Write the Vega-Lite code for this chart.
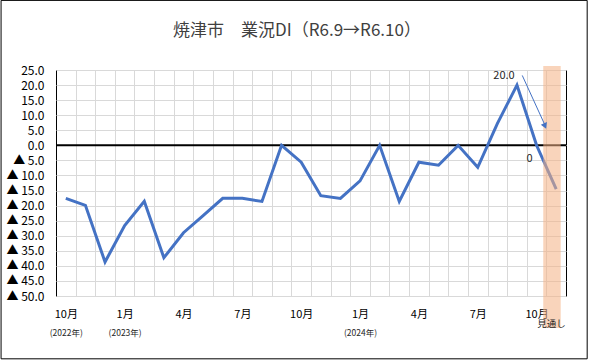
{
  "$schema": "https://vega.github.io/schema/vega-lite/v6.json",
  "autosize": {"type": "none"},
  "padding": {"left": 56, "top": 70, "right": 23, "bottom": 65},
  "width": 510,
  "height": 226,
  "background": "white",
  "config": {
    "font": "Noto Sans CJK JP",
    "view": {"stroke": "black", "strokeWidth": 1}
  },
  "title": {
    "text": "焼津市　業況DI（R6.9→R6.10）",
    "fontSize": 17,
    "fontWeight": "normal",
    "color": "#404040",
    "anchor": "middle",
    "dx": -14,
    "offset": -40
  },
  "datasets": {
    "di": [
      {"i": 0, "v": -17.6},
      {"i": 1, "v": -19.9},
      {"i": 2, "v": -38.7},
      {"i": 3, "v": -26.6},
      {"i": 4, "v": -18.6},
      {"i": 5, "v": -37.3},
      {"i": 6, "v": -29.0},
      {"i": 7, "v": -23.3},
      {"i": 8, "v": -17.6},
      {"i": 9, "v": -17.6},
      {"i": 10, "v": -18.6},
      {"i": 11, "v": 0},
      {"i": 12, "v": -5.6},
      {"i": 13, "v": -16.7},
      {"i": 14, "v": -17.6},
      {"i": 15, "v": -11.8},
      {"i": 16, "v": 0},
      {"i": 17, "v": -18.6},
      {"i": 18, "v": -5.6},
      {"i": 19, "v": -6.6},
      {"i": 20, "v": 0},
      {"i": 21, "v": -7.3},
      {"i": 22, "v": 7.2},
      {"i": 23, "v": 20},
      {"i": 24, "v": 0},
      {"i": 25, "v": -14.5}
    ]
  },
  "resolve": {"axis": {"x": "independent", "y": "independent"}},
  "layer": [
    {
      "data": {"values": [{"z": 0}]},
      "mark": {"type": "rule", "color": "black", "strokeWidth": 2},
      "encoding": {
        "y": {
          "field": "z", "type": "quantitative",
          "scale": {"domain": [-50, 25], "nice": false, "zero": false},
          "axis": {
            "orient": "left",
            "values": [-50, -45, -40, -35, -30, -25, -20, -15, -10, -5, 0, 5, 10, 15, 20, 25],
            "format": ".1f",
            "grid": true, "gridColor": "#D9D9D9", "gridWidth": 1,
            "ticks": false, "domain": false, "title": null,
            "labelExpr": "datum.value < 0 ? '▲ ' + format(abs(datum.value), '.1f') : datum.label",
            "labelFontSize": 12, "labelColor": "black", "labelPadding": 12
          }
        }
      }
    },
    {
      "data": {"name": "di"},
      "mark": {"type": "line", "color": "#4472C4", "strokeWidth": 3, "strokeJoin": "miter"},
      "encoding": {
        "x": {
          "field": "i", "type": "quantitative",
          "scale": {"domain": [-0.5, 25.5], "nice": false, "zero": false},
          "axis": {
            "orient": "bottom",
            "values": [0.5, 1.5, 2.5, 3.5, 4.5, 5.5, 6.5, 7.5, 8.5, 9.5, 10.5, 11.5, 12.5, 13.5, 14.5, 15.5, 16.5, 17.5, 18.5, 19.5, 20.5, 21.5, 22.5, 23.5, 24.5],
            "grid": true, "gridColor": "#D9D9D9", "gridWidth": 1,
            "labels": false, "ticks": false, "domain": false, "title": null
          }
        },
        "y": {"field": "v", "type": "quantitative", "axis": null}
      }
    },
    {
      "data": {"values": [{"x1": 24.34, "x2": 25.23, "y1": -60.6, "y2": 26.3}]},
      "mark": {"type": "rect", "color": "#F4B183", "opacity": 0.55},
      "encoding": {
        "x": {
          "field": "x1", "type": "quantitative",
          "axis": {
            "orient": "bottom",
            "values": [0, 3, 6, 9, 12, 15, 18, 21, 24],
            "labelExpr": "datum.value % 12 == 0 ? '10月' : (datum.value % 12 == 3 ? '1月' : (datum.value % 12 == 6 ? '4月' : '7月'))",
            "grid": false, "ticks": false, "domain": false, "title": null,
            "labelFontSize": 11, "labelColor": "black", "labelPadding": 12
          }
        },
        "x2": {"field": "x2"},
        "y": {"field": "y1", "type": "quantitative", "axis": null},
        "y2": {"field": "y2"}
      }
    },
    {
      "data": {"values": [{"i": 23, "v": 20, "t": "20.0"}]},
      "mark": {"type": "text", "fontSize": 11, "color": "#262626", "dx": -13, "dy": -9},
      "encoding": {
        "x": {
          "field": "i", "type": "quantitative",
          "axis": {
            "orient": "bottom",
            "values": [0, 3, 15],
            "labelExpr": "datum.value == 0 ? '(2022年)' : (datum.value == 3 ? '(2023年)' : '(2024年)')",
            "grid": false, "ticks": false, "domain": false, "title": null,
            "labelFontSize": 8.5, "labelColor": "#262626", "labelPadding": 32
          }
        },
        "y": {"field": "v", "type": "quantitative", "axis": null},
        "text": {"field": "t"}
      }
    },
    {
      "data": {"values": [{"i": 24, "v": 0, "t": "0"}]},
      "mark": {"type": "text", "fontSize": 11, "color": "#262626", "dx": -7, "dy": 14},
      "encoding": {
        "x": {"field": "i", "type": "quantitative", "axis": null},
        "y": {"field": "v", "type": "quantitative", "axis": null},
        "text": {"field": "t"}
      }
    },
    {
      "data": {"values": [{"x1": 23.27, "y1": 23.2, "x2": 24.42, "y2": 6.8}]},
      "mark": {"type": "rule", "color": "#4472C4", "strokeWidth": 1},
      "encoding": {
        "x": {"field": "x1", "type": "quantitative", "axis": null},
        "y": {"field": "y1", "type": "quantitative", "axis": null},
        "x2": {"field": "x2"},
        "y2": {"field": "y2"}
      }
    },
    {
      "data": {"values": [{"x": 24.43, "y": 6.4}]},
      "mark": {"type": "point", "shape": "triangle-up", "filled": true, "color": "#4472C4", "opacity": 1, "size": 45, "angle": 157},
      "encoding": {
        "x": {"field": "x", "type": "quantitative", "axis": null},
        "y": {"field": "y", "type": "quantitative", "axis": null}
      }
    },
    {
      "data": {"values": [{"x": 24.76, "y": -59.3, "t": "見通し"}]},
      "mark": {"type": "text", "fontSize": 9.5, "color": "#262626"},
      "encoding": {
        "x": {"field": "x", "type": "quantitative", "axis": null},
        "y": {"field": "y", "type": "quantitative", "axis": null},
        "text": {"field": "t"}
      }
    },
    {
      "data": {"values": [{"x1": -3.3, "x2": 26.58, "y1": -70.85, "y2": 48.1}]},
      "mark": {"type": "rect", "fill": null, "fillOpacity": 0, "stroke": "black", "strokeWidth": 1},
      "encoding": {
        "x": {"field": "x1", "type": "quantitative", "axis": null},
        "x2": {"field": "x2"},
        "y": {"field": "y1", "type": "quantitative", "axis": null},
        "y2": {"field": "y2"}
      }
    }
  ]
}
